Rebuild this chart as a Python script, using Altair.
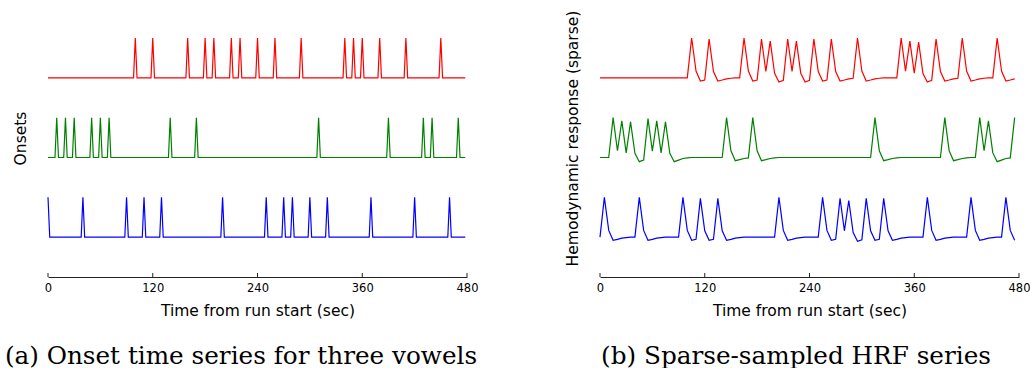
import altair as alt
import pandas as pd

# ---- data ----
x_ticks = [0, 120, 240, 360, 480]
series_names = ["red", "green", "blue"]

# onset times (sec) per vowel
red_onsets = [100, 120, 160, 180, 190, 210, 220, 240, 260, 290, 340, 350, 360, 380, 410, 450]
green_onsets = [10, 20, 30, 50, 60, 70, 140, 170, 310, 390, 430, 440, 470]
blue_onsets = [0, 40, 90, 110, 130, 200, 250, 270, 280, 300, 320, 370, 420, 460]
onset_step = 2  # sampling step of onset series (sec)
onset_end = 480

# sparse-sampled HRF series, one value every 5 s from 0 to 475
hrf_step = 5
red_hrf = [
    0, 0, 0, 0, 0, 0, 0, 0, 0, 0,
    0, 0, 0, 0, 0, 0, 0, 0, 0, 0,
    0, 1.0, 0.17, -0.08, -0.055, 0.975, 0.16, -0.08, -0.055, -0.025,
    -0.01, 0, 0, 1.0, 0.17, -0.08, -0.055, 0.975, 0.16, 0.92,
    0.115, -0.105, -0.065, 0.975, 0.16, 0.92, 0.115, -0.105, -0.065, 0.975,
    0.16, -0.08, -0.055, 0.975, 0.16, -0.08, -0.055, -0.025, -0.01, 1.0,
    0.17, -0.08, -0.055, -0.025, -0.01, 0, 0, 0, 0, 1.0,
    0.17, 0.92, 0.115, 0.895, 0.105, -0.105, -0.065, 0.975, 0.16, -0.08,
    -0.055, -0.025, -0.01, 1.0, 0.17, -0.08, -0.055, -0.025, -0.01, 0,
    0, 1.0, 0.17, -0.08, -0.055, -0.025,
]
green_hrf = [
    0, 0, 0, 1.0, 0.17, 0.92, 0.115, 0.895, 0.105, -0.105,
    -0.065, 0.975, 0.16, 0.92, 0.115, 0.895, 0.105, -0.105, -0.065, -0.025,
    -0.01, 0, 0, 0, 0, 0, 0, 0, 0, 1.0,
    0.17, -0.08, -0.055, -0.025, -0.01, 1.0, 0.17, -0.08, -0.055, -0.025,
    -0.01, 0, 0, 0, 0, 0, 0, 0, 0, 0,
    0, 0, 0, 0, 0, 0, 0, 0, 0, 0,
    0, 0, 0, 1.0, 0.17, -0.08, -0.055, -0.025, -0.01, 0,
    0, 0, 0, 0, 0, 0, 0, 0, 0, 1.0,
    0.17, -0.08, -0.055, -0.025, -0.01, 0, 0, 1.0, 0.17, 0.92,
    0.115, -0.105, -0.065, -0.025, -0.01, 1.0,
]
blue_hrf = [
    0, 1.0, 0.17, -0.08, -0.055, -0.025, -0.01, 0, 0, 1.0,
    0.17, -0.08, -0.055, -0.025, -0.01, 0, 0, 0, 0, 1.0,
    0.17, -0.08, -0.055, 0.975, 0.16, -0.08, -0.055, 0.975, 0.16, -0.08,
    -0.055, -0.025, -0.01, 0, 0, 0, 0, 0, 0, 0,
    0, 1.0, 0.17, -0.08, -0.055, -0.025, -0.01, 0, 0, 0,
    0, 1.0, 0.17, -0.08, -0.055, 0.975, 0.16, 0.92, 0.115, -0.105,
    -0.065, 0.975, 0.16, -0.08, -0.055, 0.975, 0.16, -0.08, -0.055, -0.025,
    -0.01, 0, 0, 0, 0, 1.0, 0.17, -0.08, -0.055, -0.025,
    -0.01, 0, 0, 0, 0, 1.0, 0.17, -0.08, -0.055, -0.025,
    -0.01, 0, 0, 1.0, 0.17, -0.08,
]

# ---- styling ----
colors = ["#ff0000", "#008000", "#0000ff"]
offsets = {"red": 4, "green": 2, "blue": 0}
W, H = 419, 239

onsets = {"red": red_onsets, "green": green_onsets, "blue": blue_onsets}
hrfs = {"red": red_hrf, "green": green_hrf, "blue": blue_hrf}

rows = []
for s in series_names:
    on = set(onsets[s])
    for t in range(0, onset_end, onset_step):
        rows.append({"t": t, "series": s, "y": (1.0 if t in on else 0.0) + offsets[s]})
df_on = pd.DataFrame(rows)

rows = []
for s in series_names:
    for i, v in enumerate(hrfs[s]):
        rows.append({"t": i * hrf_step, "series": s, "y": v + offsets[s]})
df_hrf = pd.DataFrame(rows)

xscale = alt.Scale(domain=[0, 480], nice=False, zero=False)
yscale = alt.Scale(domain=[-1, 5], nice=False, zero=False)
xaxis = alt.Axis(values=x_ticks, grid=False, ticks=False, tickSize=0,
                 domainColor="#222222", domainWidth=1, labelFontSize=11.5,
                 labelColor="black", labelPadding=5, labelFlush=False,
                 title="Time from run start (sec)", titleFontSize=15.5,
                 titleFontWeight="normal", titleColor="black", titlePadding=10)


def panel(df, ytitle, caption, cap_dx):
    x = alt.X("t:Q", scale=xscale, axis=xaxis)
    y = alt.Y(
        "y:Q", scale=yscale,
        axis=alt.Axis(domain=False, ticks=False, labels=False, grid=False,
                      title=ytitle, titleFontSize=15.5, titleFontWeight="normal",
                      titleColor="black", titlePadding=20, titleY=100),
    )
    lines = alt.Chart(df).mark_line(strokeWidth=1.2).encode(
        x=x, y=y,
        color=alt.Color("series:N", scale=alt.Scale(domain=series_names, range=colors), legend=None),
    )
    tickmarks = alt.Chart(pd.DataFrame({"t": x_ticks})).mark_rule(color="#222222", strokeWidth=1).encode(
        x=x,
        y=alt.value(H - 4), y2=alt.value(H),
    )
    return alt.layer(lines, tickmarks).properties(
        width=W, height=H,
        title=alt.TitleParams(caption, orient="bottom", font="DejaVu Serif", fontSize=24.7,
                              fontWeight="normal", color="black", offset=25, anchor="middle",
                              dx=cap_dx),
    )


left = panel(df_on, "Onsets", "(a) Onset time series for three vowels", -16.5)
right = panel(df_hrf, "Hemodynamic response (sparse)", "(b) Sparse-sampled HRF series", -13.5)

chart = alt.hconcat(left, right, spacing=133, bounds="flush").properties(
    padding={"left": 4, "top": 10, "right": 0, "bottom": 0}
).configure(font="DejaVu Sans").configure_view(stroke=None)

chart.save("out.html", embed_options={"renderer": "svg", "actions": False})
